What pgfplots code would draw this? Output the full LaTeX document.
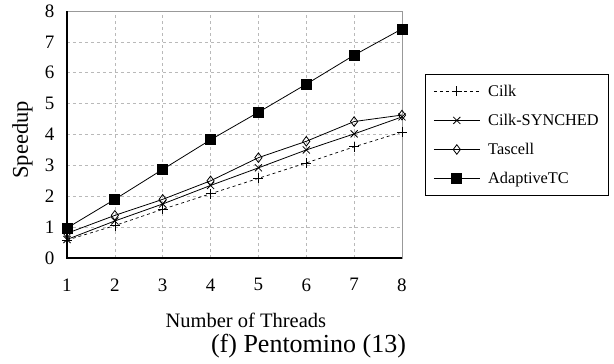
\documentclass[border=0pt]{standalone}
\usepackage{fontspec}
\setmainfont{Liberation Serif}
\usepackage{pgfplots}
\pgfplotsset{compat=1.18}
\begin{document}
\begin{tikzpicture}
\useasboundingbox (-67pt,-106pt) rectangle (547pt,258pt);
\begin{axis}[
  at={(0,0)}, anchor=south west,
  scale only axis, width=335pt, height=247pt,
  xmin=1, xmax=8, ymin=0, ymax=8,
  xtick={1,...,8}, ytick={0,...,8},
  major tick length=0pt,
  /pgf/number format/assume math mode=true,
  tick label style={font=\fontsize{19}{22}\selectfont},
  xticklabel style={yshift=-17pt},
  yticklabel style={xshift=-9pt},
  grid=major,
  major grid style={dashed, gray!55, line width=0.6pt},
  axis line style={gray!80, line width=0.8pt},
  every axis y label/.style={at={(axis description cs:-0.133,0.478)},rotate=90,anchor=center},
  every axis x label/.style={at={(axis description cs:0.534,-0.252)},anchor=center},
  ylabel={\fontsize{22.5}{26}\selectfont Speedup},
  xlabel={\fontsize{20.5}{24}\selectfont Number of Threads},
  legend style={at={(1.0687,0.745)}, anchor=north west, draw=black, line width=0.8pt,
    font=\fontsize{16.3}{19}\selectfont, row sep=12.3pt, inner xsep=8pt, inner ysep=8.5pt,
    /tikz/every odd column/.append style={column sep=6pt}},
  legend cell align=left,
  legend image code/.code={\draw[mark repeat=2,mark phase=2] plot coordinates {(0pt,0pt) (23pt,0pt) (46pt,0pt)};},
  clip=false,
]
\addplot[black, dashed, line width=0.7pt, mark=+, mark size=5pt, mark options={solid}]
  coordinates {(1,0.58) (2,1.05) (3,1.58) (4,2.08) (5,2.58) (6,3.08) (7,3.60) (8,4.08)};
\addlegendentry{Cilk}
\addplot[black, line width=0.8pt, mark=x, mark size=5pt]
  coordinates {(1,0.60) (2,1.20) (3,1.75) (4,2.35) (5,2.92) (6,3.50) (7,4.02) (8,4.57)};
\addlegendentry{Cilk-SYNCHED}
\addplot[black, line width=0.8pt, mark=diamond, mark size=4.8pt, mark options={fill=white}]
  coordinates {(1,0.80) (2,1.38) (3,1.90) (4,2.50) (5,3.25) (6,3.78) (7,4.42) (8,4.63)};
\addlegendentry{Tascell}
\addplot[black, line width=0.8pt, mark=square*, mark size=5pt]
  coordinates {(1,0.97) (2,1.90) (3,2.87) (4,3.83) (5,4.72) (6,5.63) (7,6.57) (8,7.42)};
\addlegendentry{AdaptiveTC}
\draw[black, line width=1.6pt] (rel axis cs:0,1) -- (rel axis cs:0,0) -- (rel axis cs:1,0);
\node[font=\fontsize{26}{30}\selectfont] at (rel axis cs:0.721,-0.356) {(f) Pentomino (13)};
\end{axis}
\end{tikzpicture}
\end{document}
